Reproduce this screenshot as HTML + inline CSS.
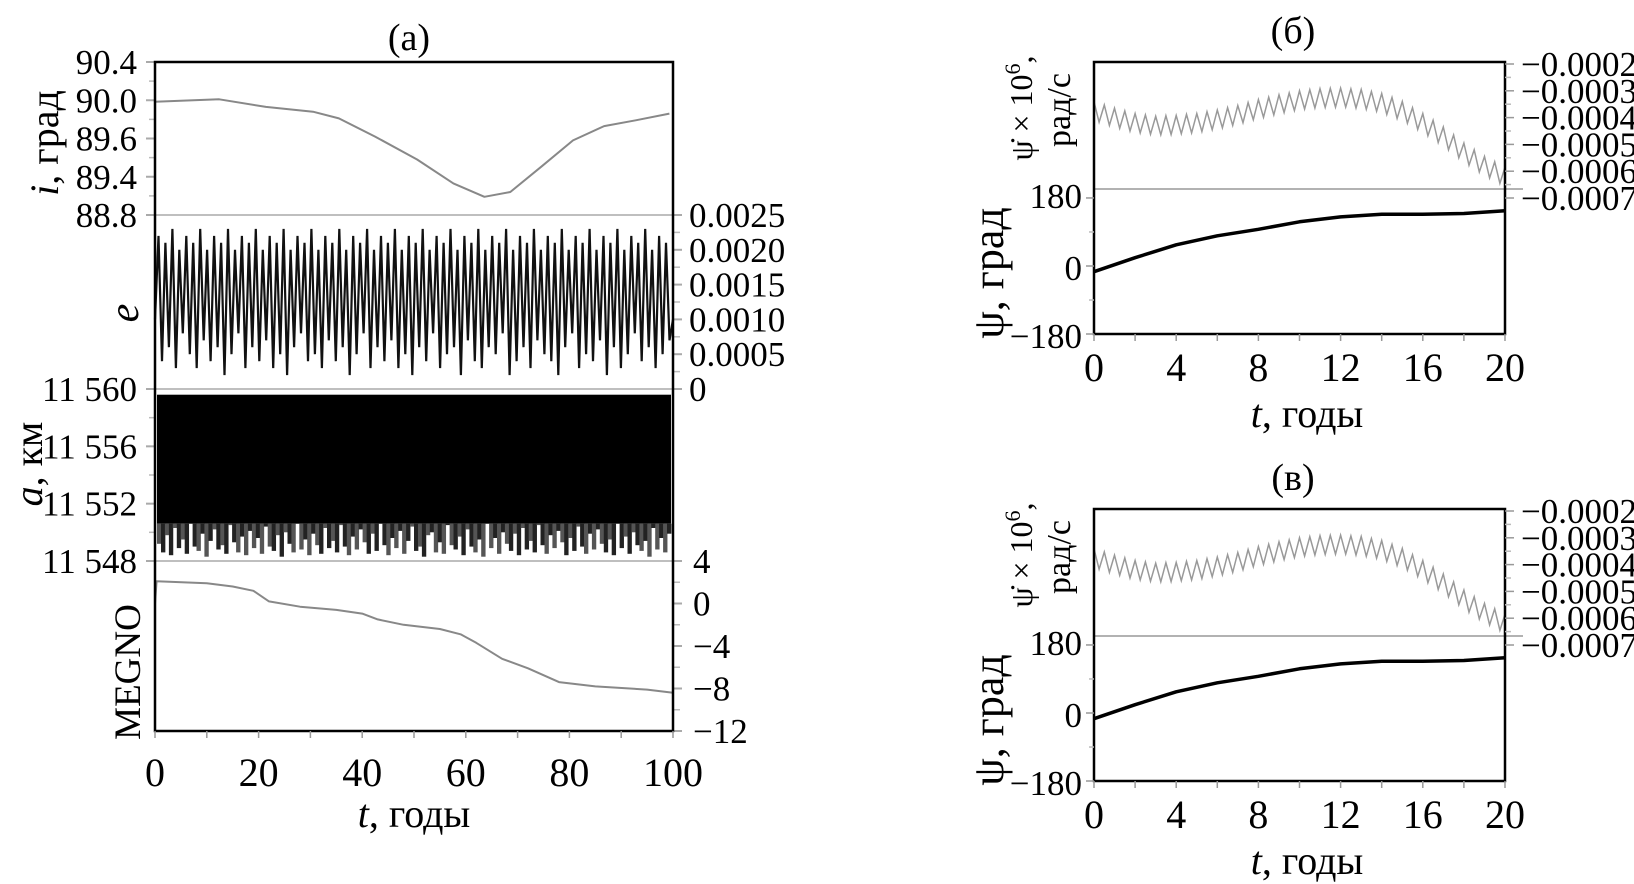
<!DOCTYPE html>
<html><head><meta charset="utf-8"><style>
html,body{margin:0;padding:0;background:#fff;}
svg{display:block;font-family:"Liberation Serif",serif;}
</style></head><body>
<svg id="fig" width="1634" height="884" viewBox="0 0 1634 884" xmlns="http://www.w3.org/2000/svg">
<g id="ga"></g>
<g id="gb"></g>
<g id="gc"></g>
</svg>
<script>
// ---------- panel (a) data ----------
const iT = [0,12.4,21.4,30.5,35.5,42.5,50.6,57.6,63.6,68.6,74.7,80.7,86.7,92.8,99.3];
const iVals = [89.985,90.01,89.93,89.88,89.81,89.62,89.38,89.13,88.99,89.04,89.31,89.58,89.73,89.79,89.86];
const iTickLabels = ["90.4","90.0","89.6","89.4","88.8"];
const eVals = [10,22,4,21,6,23,3,20,8,22,5,21,3,23,7,20,4,22,6,21,2,23,5,20,8,22,3,21,6,23,4,20,7,22,3,21,5,23,2,20,6,22,8,21,4,23,5,20,3,22,7,21,4,23,6,20,2,22,5,21,8,23,3,20,6,22,4,21,7,23,3,20,5,22,2,21,6,23,4,20,8,22,3,21,5,23,6,20,2,22,7,21,4,23,3,20,6,22,5,21,8,23,2,20,4,22,6,21,3,23,7,20,5,22,4,21,2,23,6,20,8,22,3,21,5,23,4,20,7,22,2,21,6,23,3,20,5,22,8,21,4,23,6,20,3,22,5,21,7,10];
const eTickLabels = ["0.0025","0.0020","0.0015","0.0010","0.0005","0"];
const aLow = [11549.2,11548.6,11549.8,11548.4,11550.3,11548.9,11549.5,11548.5,11550.6,11549.0,11548.7,11549.9,11548.3,11549.4,11550.2,11548.8,11549.1,11548.5,11550.5,11549.3,11548.6,11549.7,11548.4,11550.1,11548.9,11549.6,11548.5,11550.4,11549.0,11548.7,11549.8,11548.3,11550.0,11549.2,11548.6,11550.7,11548.8,11549.5,11548.4,11549.9,11549.1,11548.5,11550.3,11548.9,11549.4,11548.6,11550.5,11549.0,11548.4,11549.7,11548.8,11550.2,11549.3,11548.5,11549.9,11548.7,11550.6,11549.1,11548.4,11549.6,11548.9,11550.1,11548.5,11549.4,11550.4,11548.7,11549.0,11548.3,11549.8,11550.0,11548.6,11549.3,11548.5,11550.5,11549.1,11548.8,11549.7,11548.4,11550.2,11549.0,11548.6,11549.5,11548.3,11550.7,11548.9,11549.6,11548.5,11550.0,11549.2,11548.7,11549.9,11548.4,11550.3,11548.8,11549.4,11548.6,11550.5,11549.1,11548.5,11549.8,11548.9,11550.1,11549.3,11548.4,11549.6,11548.7,11550.4,11549.0,11548.5,11549.9,11548.8,11550.2,11549.2,11548.6,11549.5,11548.4,11550.6,11548.9,11549.7,11548.5,11550.0,11549.1,11548.7,11549.4,11548.3,11550.3,11548.8,11549.6,11548.6,11549.9];
const aTopVal = 11559.6;
const aBlackBottom = 11550.6;
const aTickLabels = ["11 560","11 556","11 552","11 548"];
const mT = [0,0.3,10,15,19,22,28,35,40,43,48,55,59,62,67,72,78,85,95,100];
const mVals = [0,2.1,1.9,1.6,1.2,0.2,-0.3,-0.6,-0.95,-1.5,-2.0,-2.4,-2.9,-3.7,-5.2,-6.1,-7.4,-7.8,-8.1,-8.4];
const mTickLabels = ["4","0","\u22124","\u22128","\u221212"];
const xTicksA = [0,20,40,60,80,100];
// ---------- panels (б),(в) data ----------
const psiT = [0,2,4,6,8,10,12,14,16,18,20];
const psiVals = [-15,22,56,80,97,117,130,137,137,139,146];
const psiTickLabels = ["180","0","\u2212180"];
const psiTickVals = [180,0,-180];
const dpsiVals = [3.41,4.17,3.53,4.29,3.65,4.40,3.75,4.50,3.85,4.57,3.90,4.62,3.95,4.64,3.93,4.63,3.92,4.60,3.88,4.57,3.85,4.52,3.78,4.45,3.72,4.38,3.63,4.29,3.55,4.19,3.44,4.08,3.33,3.99,3.24,3.90,3.15,3.81,3.08,3.74,3.00,3.68,2.96,3.64,2.92,3.62,2.91,3.61,2.90,3.61,2.93,3.64,2.95,3.69,3.03,3.76,3.10,3.88,3.25,4.03,3.40,4.21,3.63,4.44,3.85,4.68,4.10,4.93,4.35,5.20,4.65,5.50,4.95,5.78,5.20,6.03,5.45,6.25,5.65,6.45,5.85];
const dpsiTickLabels = ["\u22120.0002","\u22120.0003","\u22120.0004","\u22120.0005","\u22120.0006","\u22120.0007"];
const xTicksB = [0,4,8,12,16,20];

const NS="http://www.w3.org/2000/svg";
function mk(parent,tag,attrs,text){const e=document.createElementNS(NS,tag);for(const k in attrs)e.setAttribute(k,attrs[k]);if(text!==undefined)e.textContent=text;parent.appendChild(e);return e;}

// ===== panel a =====
const A=document.getElementById('ga');
const L=155,R=673,T=62,D1=215,D2=389,D3=561,B=731;
const xa=t=>L+(t/100)*(R-L);
const yi=v=>D1-(v-88.8)/1.6*(D1-T);
const ye=v=>D2-(v/25)*(D2-D1);
const yaa=v=>D3-(v-11548)/12*(D3-D2);
const ym=v=>B-(v+12)/16*(B-D3);

let el=mk(A,'text',{x:409,y:50,'font-size':38,'text-anchor':'middle'},'(a)');



// i panel
let p=iT.map((t,k)=>xa(t).toFixed(1)+','+yi(iVals[k]).toFixed(1)).join(' ');
el=mk(A,'polyline',{points:p,fill:'none',stroke:'#888','stroke-width':2,'stroke-linejoin':'round'});


iTickLabels.forEach((s,k)=>{const y=T+k*(D1-T)/4;
  el=mk(A,'text',{x:137,y:y+12,'font-size':35,'text-anchor':'end'},s);
  
  
  mk(A,'line',{x1:146,x2:L,y1:y,y2:y,stroke:'#aaa','stroke-width':2});
  if(k<4) mk(A,'line',{x1:149,x2:L,y1:y+(D1-T)/8,y2:y+(D1-T)/8,stroke:'#bbb','stroke-width':1.5});
});
el=mk(A,'text',{x:0,y:0,'font-size':40,'text-anchor':'middle',transform:'translate(58,143) rotate(-90)'});


mk(el,'tspan',{'font-style':'italic'},'i');mk(el,'tspan',{},', град');

// e panel
p=eVals.map((v,k)=>xa(k/(eVals.length-1)*100).toFixed(1)+','+ye(v).toFixed(1)).join(' ');
el=mk(A,'polyline',{points:p,fill:'none',stroke:'#111','stroke-width':2.2});


eTickLabels.forEach((s,k)=>{const y=D1+k*(D2-D1)/5;
  el=mk(A,'text',{x:689,y:y+12,'font-size':35},s);
  
  
  mk(A,'line',{x1:R,x2:682,y1:y,y2:y,stroke:'#aaa','stroke-width':2});
  if(k<5) mk(A,'line',{x1:R,x2:680,y1:y+(D2-D1)/10,y2:y+(D2-D1)/10,stroke:'#bbb','stroke-width':1.5});
});
el=mk(A,'text',{x:0,y:0,'font-size':42,'font-style':'italic','text-anchor':'middle',transform:'translate(138,313) rotate(-90)'},'e');



// a panel
const bw=(R-L-4)/aLow.length;
el=mk(A,'rect',{x:L+2,y:yaa(aTopVal).toFixed(1),width:R-L-4,height:(yaa(aBlackBottom)-yaa(aTopVal)).toFixed(1),fill:'#000'});


aLow.forEach((v,k)=>{const x=L+2+k*bw;
  el=mk(A,'rect',{x:x.toFixed(1),y:yaa(aBlackBottom).toFixed(1),width:(bw+0.4).toFixed(2),height:(yaa(v)-yaa(aBlackBottom)).toFixed(1),fill:(k%2?'#222':'#555')});
  
  
});
aTickLabels.forEach((s,k)=>{const y=D2+k*(D3-D2)/3;
  el=mk(A,'text',{x:137,y:y+12,'font-size':35,'text-anchor':'end'},s);
  
  
  mk(A,'line',{x1:146,x2:L,y1:y,y2:y,stroke:'#aaa','stroke-width':2});
  if(k<3) mk(A,'line',{x1:149,x2:L,y1:y+(D3-D2)/6,y2:y+(D3-D2)/6,stroke:'#bbb','stroke-width':1.5});
});
el=mk(A,'text',{x:0,y:0,'font-size':40,'text-anchor':'middle',transform:'translate(42,464) rotate(-90)'});


mk(el,'tspan',{'font-style':'italic'},'a');mk(el,'tspan',{},', км');

// MEGNO panel
p=mT.map((t,k)=>xa(t).toFixed(1)+','+ym(mVals[k]).toFixed(1)).join(' ');
el=mk(A,'polyline',{points:p,fill:'none',stroke:'#888','stroke-width':2,'stroke-linejoin':'round'});


mTickLabels.forEach((s,k)=>{const y=D3+k*(B-D3)/4;
  el=mk(A,'text',{x:693,y:y+12,'font-size':35},s);
  
  
  mk(A,'line',{x1:R,x2:682,y1:y,y2:y,stroke:'#aaa','stroke-width':2});
  if(k<4) mk(A,'line',{x1:R,x2:680,y1:y+(B-D3)/8,y2:y+(B-D3)/8,stroke:'#bbb','stroke-width':1.5});
});
el=mk(A,'text',{x:0,y:0,'font-size':37,'text-anchor':'middle',transform:'translate(140,672) rotate(-90)'},'MEGNO');



// dividers & frame
[D1,D2,D3].forEach(y=>{el=mk(A,'line',{x1:L,x2:R,y1:y,y2:y,stroke:'#aaa','stroke-width':1.5});
  
  });
el=mk(A,'rect',{x:L,y:T,width:R-L,height:B-T,fill:'none',stroke:'#000','stroke-width':2.5});


for(let t=0;t<=100;t+=10) mk(A,'line',{x1:xa(t),x2:xa(t),y1:B,y2:B+7,stroke:'#999','stroke-width':1.5});
xTicksA.forEach(t=>{el=mk(A,'text',{x:xa(t),y:786,'font-size':40,'text-anchor':'middle'},String(t));
  
  });
el=mk(A,'text',{x:414,y:827,'font-size':40,'text-anchor':'middle'});


mk(el,'tspan',{'font-style':'italic'},'t');mk(el,'tspan',{},', годы');

// ===== panels б / в =====
function rightPanel(g,dy,title,key){
  const l=1094,r=1505,t=62+dy,b=334+dy,div=189+dy,y0=266+dy;
  const xb=v=>l+(v/20)*(r-l);
  const yp=v=>y0-v*0.378;
  const yd=v=>(64+dy)+(v-2)*26.8;
  let e=mk(g,'text',{x:1293,y:43+dy,'font-size':38,'text-anchor':'middle'},title);
  
  
  let pts=dpsiVals.map((v,k)=>xb(k/(dpsiVals.length-1)*20).toFixed(1)+','+yd(v).toFixed(1)).join(' ');
  e=mk(g,'polyline',{points:pts,fill:'none',stroke:'#999','stroke-width':1.5});
  
  
  pts=psiT.map((v,k)=>xb(v).toFixed(1)+','+yp(psiVals[k]).toFixed(1)).join(' ');
  e=mk(g,'polyline',{points:pts,fill:'none',stroke:'#000','stroke-width':3.5,'stroke-linejoin':'round'});
  
  
  e=mk(g,'line',{x1:l,x2:r+18,y1:div,y2:div,stroke:'#999','stroke-width':1.5});
  
  
  e=mk(g,'rect',{x:l,y:t,width:r-l,height:b-t,fill:'none',stroke:'#000','stroke-width':2.5});
  
  
  psiTickVals.forEach((v,k)=>{const y=Math.min(yp(v),b);
    e=mk(g,'text',{x:1082,y:y+(k===0?10:14),'font-size':35,'text-anchor':'end'},psiTickLabels[k]);
    
    
    mk(g,'line',{x1:l-8,x2:l,y1:y,y2:y,stroke:'#999','stroke-width':1.5});});
  mk(g,'line',{x1:l-5,x2:l,y1:yp(90),y2:yp(90),stroke:'#bbb','stroke-width':1.5});
  mk(g,'line',{x1:l-5,x2:l,y1:yp(-90),y2:yp(-90),stroke:'#bbb','stroke-width':1.5});
  dpsiTickLabels.forEach((s,k)=>{const y=yd(2+k);
    e=mk(g,'text',{x:1521,y:y+12,'font-size':35},s);
    
    
    mk(g,'line',{x1:r,x2:r+9,y1:y,y2:y,stroke:'#999','stroke-width':1.5});
    if(k<5) mk(g,'line',{x1:r,x2:r+6,y1:y+13.4,y2:y+13.4,stroke:'#bbb','stroke-width':1.5});});
  for(let v=0;v<=20;v+=2) mk(g,'line',{x1:xb(v),x2:xb(v),y1:b,y2:b+7,stroke:'#999','stroke-width':1.5});
  xTicksB.forEach(v=>{e=mk(g,'text',{x:xb(v),y:381+dy,'font-size':40,'text-anchor':'middle'},String(v));
    
    });
  e=mk(g,'text',{x:1307,y:427+dy,'font-size':40,'text-anchor':'middle'});
  
  
  mk(e,'tspan',{'font-style':'italic'},'t');mk(e,'tspan',{},', годы');
  e=mk(g,'text',{x:0,y:0,'font-size':44,'text-anchor':'middle',transform:'translate('+1003+','+(273+dy)+') rotate(-90)'},'ψ, град');
  
  
  e=mk(g,'text',{x:0,y:0,'font-size':32,'text-anchor':'middle',transform:'translate('+1032+','+(108+dy)+') rotate(-90)'});
  
  
  mk(e,'tspan',{},'ψ\u0307 × 10');mk(e,'tspan',{dy:-12,'font-size':22},'6');mk(e,'tspan',{dy:12},',');
  e=mk(g,'text',{x:0,y:0,'font-size':34,'text-anchor':'middle',transform:'translate('+1070+','+(110+dy)+') rotate(-90)'},'рад/с');
  
  
}
rightPanel(document.getElementById('gb'),0,'(б)','panel-b');
rightPanel(document.getElementById('gc'),447,'(в)','panel-v');
</script>
</body></html>
